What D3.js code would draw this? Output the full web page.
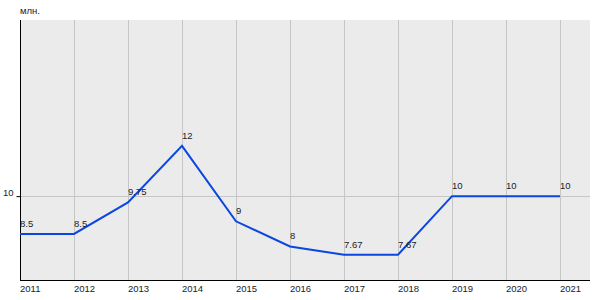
<!DOCTYPE html>
<html>
<head>
<meta charset="utf-8">
<script src="https://cdn.jsdelivr.net/npm/d3@7"></script>
<style>
  body { margin: 0; background: #fff; }
  text { font-family: Arial, "Liberation Sans", sans-serif; font-size: 9.5px; fill: #222; }
</style>
</head>
<body>
<div id="chart"></div>
<script>
// --- Data ---
const years = [2011, 2012, 2013, 2014, 2015, 2016, 2017, 2018, 2019, 2020, 2021];
const values = [8.5, 8.5, 9.75, 12, 9, 8, 7.67, 7.67, 10, 10, 10];
const yTicks = [10];
const unitLabel = 'млн.';

// --- Plot sizing ---
const width = 600, height = 300;
const margin = { top: 20, right: 10, bottom: 20, left: 20 };

const svg = d3.select('#chart').append('svg')
  .attr('width', width)
  .attr('height', height);

// scales
const x = d3.scaleLinear()
  .domain([2011, 2021])
  .range([margin.left, 560]);
const y = d3.scaleLinear()
  .domain([6.667, 17])
  .range([height - margin.bottom, margin.top]);

// background
svg.append('rect')
  .attr('x', margin.left)
  .attr('y', margin.top)
  .attr('width', width - margin.left - margin.right)
  .attr('height', height - margin.top - margin.bottom)
  .attr('fill', '#ebebeb');

// vertical grid
svg.append('g')
  .selectAll('line')
  .data(years.slice(1))
  .enter().append('line')
  .attr('x1', d => Math.round(x(d)) + 0.5)
  .attr('x2', d => Math.round(x(d)) + 0.5)
  .attr('y1', margin.top)
  .attr('y2', height - margin.bottom)
  .attr('stroke', '#c6c6c6');

// horizontal grid
svg.append('g')
  .selectAll('line')
  .data(yTicks)
  .enter().append('line')
  .attr('x1', margin.left)
  .attr('x2', width - margin.right)
  .attr('y1', d => Math.round(y(d)) + 0.5)
  .attr('y2', d => Math.round(y(d)) + 0.5)
  .attr('stroke', '#c6c6c6');

// y axis
const yAxis = d3.axisLeft(y).tickValues(yTicks).tickSize(4).tickPadding(3).tickFormat(d3.format('d'));
const gy = svg.append('g')
  .attr('transform', `translate(${margin.left + 0.5},0)`)
  .call(yAxis);
gy.select('.domain').attr('stroke', '#000').attr('d', `M0,${margin.top}V${height - margin.bottom}`);
gy.selectAll('.tick line').attr('stroke', '#000');
gy.selectAll('.tick text').attr('dy', '-0.1em').attr('fill', '#222')
  .style('font-family', 'Arial, "Liberation Sans", sans-serif').style('font-size', '9.5px');

// x axis line
svg.append('line')
  .attr('x1', margin.left)
  .attr('x2', width - margin.right)
  .attr('y1', height - margin.bottom + 0.5)
  .attr('y2', height - margin.bottom + 0.5)
  .attr('stroke', '#000');

// x labels (left aligned at the grid line)
svg.append('g')
  .selectAll('text')
  .data(years)
  .enter().append('text')
  .attr('x', d => x(d))
  .attr('y', 292)
  .text(d => d);

// unit label
svg.append('text')
  .attr('x', margin.left)
  .attr('y', 14)
  .text(unitLabel);

// line
const line = d3.line()
  .x((d, i) => x(years[i]))
  .y(d => y(d));

svg.append('path')
  .datum(values)
  .attr('d', line)
  .attr('fill', 'none')
  .attr('stroke', '#0a46e0')
  .attr('stroke-width', 2);

// value labels
svg.append('g')
  .selectAll('text')
  .data(values)
  .enter().append('text')
  .attr('x', (d, i) => x(years[i]))
  .attr('y', d => y(d) - 7)
  .text(d => d);
</script>
</body>
</html>
